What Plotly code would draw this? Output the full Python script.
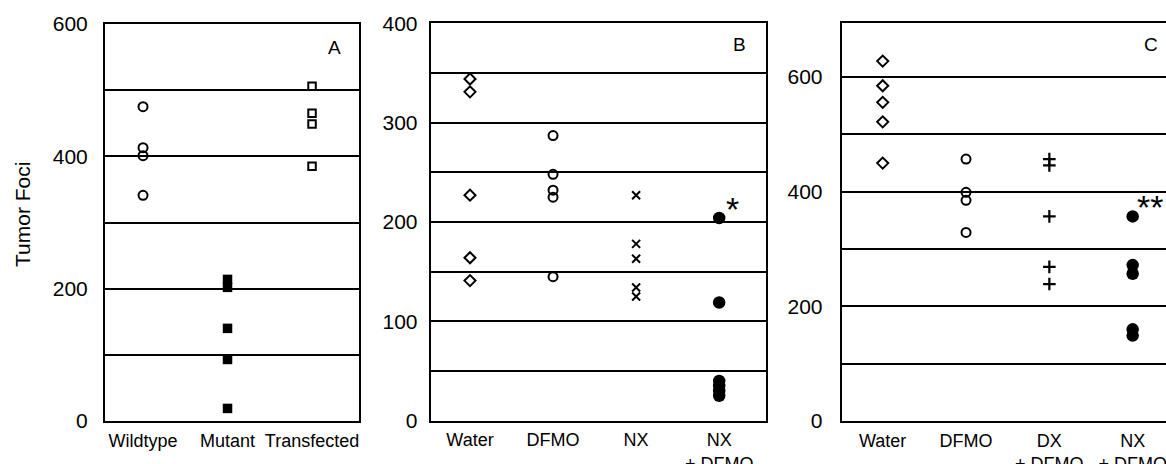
import plotly.graph_objects as go

# Positions below are expressed in window pixels; the page margin is removed
# so the figure fills the 1166x464 window exactly.
WIN_W, WIN_H = 1166, 464
OFF = 0
W, H = WIN_W - OFF, WIN_H - OFF

# ---------------- data ----------------
# Panel A
a_categories = ["Wildtype", "Mutant", "Transfected"]
a_wildtype = [475, 413, 401, 341]
a_mutant = [214, 202, 140, 93, 19]
a_transfected = [506, 465, 449, 385]
a_tickvals = [0, 100, 200, 300, 400, 500, 600]
a_ticktext = ["0", "", "200", "", "400", "", "600"]

# Panel B
b_categories = ["Water", "DFMO", "NX", "NX<br>+ DFMO"]
b_water = [344, 331, 227, 164, 141]
b_dfmo = [287, 248, 232, 225, 145]
b_nx = [227, 178, 163, 134, 125]
b_nx_dfmo = [204, 119, 40, 35, 30, 25]
b_tickvals = [0, 50, 100, 150, 200, 250, 300, 350, 400]
b_ticktext = ["0", "", "100", "", "200", "", "300", "", "400"]

# Panel C
c_categories = ["Water", "DFMO", "DX<br>+ DFMO", "NX<br>+ DFMO"]
c_water = [628, 585, 556, 522, 450]
c_dfmo = [457, 399, 385, 329]
c_dx_dfmo = [457, 446, 357, 269, 239]
c_nx_dfmo = [357, 272, 257, 160, 149]
c_tickvals = [0, 100, 200, 300, 400, 500, 600]
c_ticktext = ["0", "", "200", "", "400", "", "600"]

FONT = "Liberation Sans, Arial, Helvetica, sans-serif"
INK = "black"

fig = go.Figure()


def add(xaxis, yaxis, cat, vals, symbol, size, lw=2):
    fig.add_trace(go.Scatter(
        x=[cat] * len(vals), y=vals, mode="markers",
        xaxis=xaxis, yaxis=yaxis, showlegend=False, hoverinfo="y",
        marker=dict(symbol=symbol, size=size, color=INK,
                    line=dict(color=INK, width=lw)),
        cliponaxis=False,
    ))


# Panel A
add("x", "y", a_categories[0], a_wildtype, "circle-open", 9)
add("x", "y", a_categories[1], a_mutant, "square", 9.5, 0)
add("x", "y", a_categories[2], a_transfected, "square-open", 7.5)

# Panel B
add("x2", "y2", b_categories[0], b_water, "diamond-open", 8.5)
add("x2", "y2", b_categories[1], b_dfmo, "circle-open", 9)
add("x2", "y2", b_categories[2], b_nx, "x-thin-open", 8, 2)
add("x2", "y2", b_categories[3], b_nx_dfmo, "circle", 12.5, 0)

# Panel C
add("x3", "y3", c_categories[0], c_water, "diamond-open", 8.5)
add("x3", "y3", c_categories[1], c_dfmo, "circle-open", 9)
add("x3", "y3", c_categories[2], c_dx_dfmo, "cross-thin-open", 9, 2.2)
add("x3", "y3", c_categories[3], c_nx_dfmo, "circle", 12.5, 0)


def px_x(v):
    return (v - OFF) / W


def px_y(v):
    return (WIN_H - v) / H


def xaxis(domain, cats, rng, anchor, mirror=True):
    return dict(
        domain=domain, anchor=anchor, type="category",
        categoryorder="array", categoryarray=cats,
        range=rng, showgrid=False, zeroline=False, automargin=False,
        showline=True, linecolor=INK, linewidth=2, mirror=mirror,
        ticks="", ticklabelstandoff=2,
        tickfont=dict(family=FONT, size=18, color=INK),
        fixedrange=True,
    )


def yaxis(domain, rng, tv, tt, anchor, standoff, mirror=True):
    return dict(
        domain=domain, anchor=anchor, range=rng, automargin=False,
        tickmode="array", tickvals=tv, ticktext=tt,
        showgrid=True, gridcolor=INK, gridwidth=2,
        zeroline=False, showline=True, linecolor=INK, linewidth=2,
        mirror=mirror, ticks="", ticklabelstandoff=standoff,
        tickfont=dict(family=FONT, size=21, color=INK),
        fixedrange=True,
    )


fig.update_layout(
    width=W, height=H,
    margin=dict(l=0, r=0, t=0, b=0, autoexpand=False),
    paper_bgcolor="white", plot_bgcolor="white",
    font=dict(family=FONT, color=INK),
    hovermode=False,
    xaxis=xaxis([px_x(105), px_x(359)], a_categories, [-0.45, 2.556], "y"),
    yaxis=yaxis([px_y(421), px_y(24)], [0, 600], a_tickvals, a_ticktext, "x", 11),
    xaxis2=xaxis([px_x(430.7), px_x(765.7)], b_categories, [-0.473, 3.56], "y2"),
    yaxis2=yaxis([px_y(420.7), px_y(23.3)], [0, 400], b_tickvals, b_ticktext, "x2", 7),
    xaxis3=xaxis([px_x(841.7), 1.0], c_categories, [-0.492, 3.40], "y3"),
    yaxis3=yaxis([px_y(421), px_y(22.7)], [0, 695], c_tickvals, c_ticktext, "x3", 13, mirror=False),
)

ann = []
# panel letters
for letter, x, y in [("A", 334, 47), ("B", 739, 45), ("C", 1151, 45)]:
    ann.append(dict(text=letter, x=px_x(x), y=px_y(y), xref="paper", yref="paper",
                    showarrow=False, xanchor="center", yanchor="middle",
                    font=dict(family=FONT, size=19, color=INK)))
# y title
ann.append(dict(text="Tumor Foci", x=px_x(22), y=px_y(215), xref="paper", yref="paper",
                showarrow=False, textangle=-90, xanchor="center", yanchor="middle",
                font=dict(family=FONT, size=21, color=INK)))
# significance marks
ann.append(dict(text="*", x=b_categories[3], y=b_nx_dfmo[0], xref="x2", yref="y2",
                showarrow=False, xanchor="left", yanchor="middle", xshift=5, yshift=9,
                font=dict(family=FONT, size=34, color=INK)))
ann.append(dict(text="**", x=c_categories[3], y=c_nx_dfmo[0], xref="x3", yref="y3",
                showarrow=False, xanchor="left", yanchor="middle", xshift=2, yshift=9,
                font=dict(family=FONT, size=34, color=INK)))
fig.update_layout(annotations=ann)

fig.write_html(
    "out.html",
    config={"displayModeBar": False, "staticPlot": True},
    post_script="document.body.style.margin='0';document.body.style.overflow='hidden';",
)
